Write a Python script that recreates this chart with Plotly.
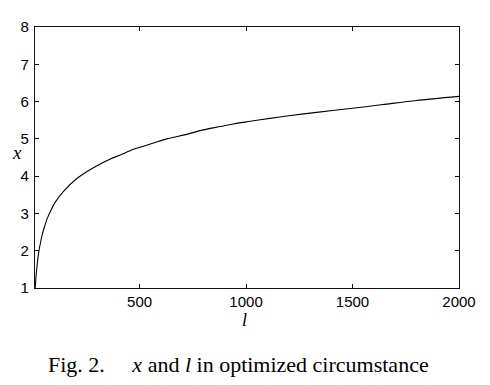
import plotly.graph_objects as go

# values
l_values = [10, 15, 20, 27, 35, 43, 55, 66, 85, 105, 144, 200, 250, 300, 363, 410, 472,
            566, 628, 722, 784, 878, 940, 1020, 1112, 1200, 1331, 1500, 1643, 1800, 2000]
x_values = [1.00, 1.39, 1.67, 1.98, 2.22, 2.43, 2.67, 2.86, 3.10, 3.31, 3.60, 3.91, 4.11, 4.28, 4.46, 4.57, 4.72,
            4.89, 5.00, 5.12, 5.22, 5.33, 5.40, 5.47, 5.55, 5.62, 5.71, 5.82, 5.92, 6.03, 6.14]

x_ticks = [500, 1000, 1500, 2000]
y_ticks = [1, 2, 3, 4, 5, 6, 7, 8]

fig = go.Figure()
fig.add_trace(go.Scatter(
    x=l_values, y=x_values, mode="lines",
    line=dict(color="black", width=1.1, shape="spline", smoothing=0.8),
    showlegend=False, hoverinfo="skip",
))

axis_common = dict(
    showgrid=False, zeroline=False, showline=True, linecolor="#111111", linewidth=1.3,
    mirror="ticks", ticks="inside", ticklen=4, tickwidth=1, tickcolor="#111111",
    tickfont=dict(family="Liberation Sans, Arial, sans-serif", size=15, color="black"),
)

fig.update_xaxes(range=[9, 2000], tickvals=x_ticks, ticktext=[str(v) for v in x_ticks], **axis_common)
fig.update_yaxes(range=[1, 8], tickvals=y_ticks, ticktext=[str(v) for v in y_ticks], ticklabelstandoff=2, **axis_common)

serif = "Liberation Serif, Times New Roman, serif"
fig.update_layout(
    width=490, height=385,
    margin=dict(l=34.5, r=30.5, t=27, b=96.7),
    paper_bgcolor="white", plot_bgcolor="white",
    annotations=[
        dict(text="<i>x</i>", xref="paper", yref="paper", x=-0.0435, y=0.52,
             xanchor="center", yanchor="middle", showarrow=False,
             font=dict(family=serif, size=19, color="black")),
        dict(text="<i>l</i>", xref="paper", yref="paper", x=0.493, y=-0.122,
             xanchor="center", yanchor="middle", showarrow=False,
             font=dict(family=serif, size=18, color="black")),
        dict(text="Fig. 2.\u00a0\u00a0\u00a0\u00a0\u00a0<i>x</i> and <i>l</i> in optimized circumstance",
             xref="paper", yref="paper", x=0.026, y=-0.2935,
             xanchor="left", yanchor="middle", showarrow=False,
             font=dict(family=serif, size=22, color="black")),
    ],
)

fig.write_html(
    "out.html",
    config={"displayModeBar": False},
    post_script="document.body.style.margin='0';document.body.style.overflow='hidden';",
)
